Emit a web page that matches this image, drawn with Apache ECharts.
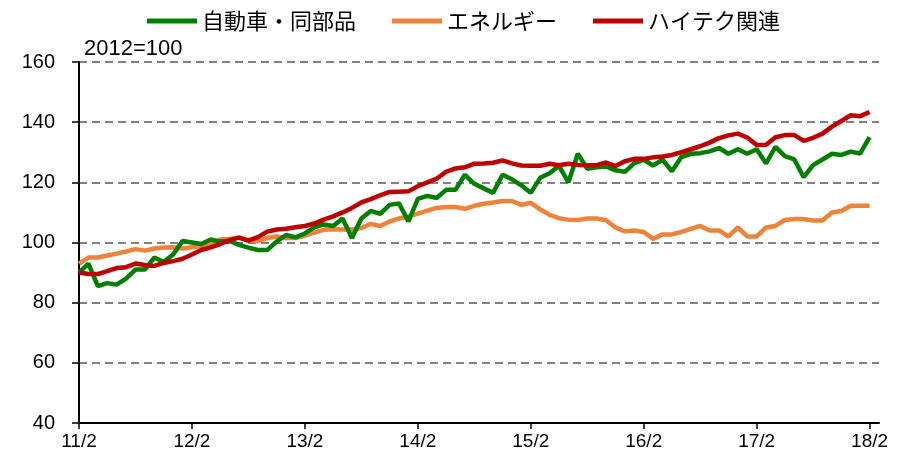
<!DOCTYPE html>
<html>
<head>
<meta charset="utf-8">
<script src="https://cdn.jsdelivr.net/npm/echarts@6/dist/echarts.min.js"></script>
<style>
html,body{margin:0;padding:0;background:#fff;}
#chart{width:906px;height:460px;}
</style>
</head>
<body>
<div id="chart"></div>
<script>
// Monthly categories 11/2 .. 18/3 (last one only extends the axis)
var categories = [
 '11/2','11/3','11/4','11/5','11/6','11/7','11/8','11/9','11/10','11/11','11/12',
 '12/1','12/2','12/3','12/4','12/5','12/6','12/7','12/8','12/9','12/10','12/11','12/12',
 '13/1','13/2','13/3','13/4','13/5','13/6','13/7','13/8','13/9','13/10','13/11','13/12',
 '14/1','14/2','14/3','14/4','14/5','14/6','14/7','14/8','14/9','14/10','14/11','14/12',
 '15/1','15/2','15/3','15/4','15/5','15/6','15/7','15/8','15/9','15/10','15/11','15/12',
 '16/1','16/2','16/3','16/4','16/5','16/6','16/7','16/8','16/9','16/10','16/11','16/12',
 '17/1','17/2','17/3','17/4','17/5','17/6','17/7','17/8','17/9','17/10','17/11','17/12',
 '18/1','18/2','18/3'
];
var seriesNames = ['自動車・同部品', 'エネルギー', 'ハイテク関連'];
var autoParts = [
 90,93,85.5,86.5,86,88,91,91,95,93.5,96,100.5,
 100,99.5,101,100.3,100.5,99.2,98.3,97.5,97.5,100.3,102.5,101.7,
 103,105,106,105.5,108,101.5,108,110.5,109.5,112.5,113,107,
 114.5,115.5,114.8,117.5,117.5,122.5,119.5,118,116.5,122.5,121,119,
 116.5,121.5,123,125.5,120,129.5,124.5,125,125.3,124,123.5,126.4,
 127.5,125.6,127.5,123.7,128.4,129.5,129.7,130.3,131.4,129.5,131,129.5,
 131,126.3,131.8,128.7,127.6,121.7,125.7,127.6,129.5,129.1,130.2,129.6,135,
 null
];
var energy = [
 93,95,95,95.7,96.3,97,97.8,97.3,98,98.3,98.4,98,
 98.4,98.8,99.5,101,101.2,101.7,100.8,100.5,101.5,102,101.5,101.5,
 102.3,103.3,104.2,104.4,104.3,104.3,104.8,106.2,105.5,107,108,108.6,
 109.6,110.6,111.5,111.8,111.8,111.2,112.2,112.9,113.3,113.8,113.8,112.5,
 113.2,111,109.2,108.1,107.6,107.5,108,108,107.4,105,103.7,104,
 103.5,101.2,102.7,102.7,103.5,104.5,105.5,104,104,102,105,102,
 102,105,105.5,107.5,107.8,107.8,107.3,107.3,110,110.5,112.2,112.2,112.2,
 null
];
var hiTech = [
 90,89.5,89.5,90.5,91.5,91.8,93,92.5,92.2,93.2,93.8,94.6,
 96,97.5,98.4,99.5,100.8,101.6,100.6,101.8,103.6,104.3,104.6,105.1,
 105.5,106.3,107.6,108.7,110,111.5,113.3,114.4,115.7,116.8,116.9,117,
 118.7,120,121.2,123.5,124.6,125,126.2,126.3,126.5,127.3,126.3,125.6,
 125.5,125.5,126.2,125.7,126.2,125.8,125.7,125.7,126.6,125.4,127,127.8,
 127.8,128.3,128.6,129.1,130,131,132,133.2,134.7,135.6,136.2,134.9,
 132.4,132.5,135,135.7,135.7,133.8,134.8,136.2,138.5,140.4,142.3,142,143.4,
 null
];
var colors = ['#008000', '#F0823A', '#C00000'];
var yTicks = {min: 40, max: 160, interval: 20};
var unitLabel = '2012=100';

var chart = echarts.init(document.getElementById('chart'), null, {renderer: 'canvas'});
var numFont = "'Liberation Sans', Arial, sans-serif";
var jpFont = "'Noto Sans CJK JP', sans-serif";
var dataSets = [autoParts, energy, hiTech];
chart.setOption({
  animation: false,
  backgroundColor: '#fff',
  title: {
    text: unitLabel, left: 79, top: 33,
    textStyle: {fontFamily: numFont, fontSize: 22, fontWeight: 'normal', color: '#000'}
  },
  legend: {
    data: seriesNames.map(function (n) { return {name: n, icon: 'rect'}; }),
    left: 142, top: 5,
    itemWidth: 50, itemHeight: 5, itemGap: 36,
    textStyle: {fontFamily: jpFont, fontSize: 22, color: '#000'}
  },
  grid: {left: 79, right: 27, top: 62, bottom: 37, containLabel: false},
  xAxis: {
    type: 'category',
    data: categories,
    boundaryGap: false,
    axisLine: {lineStyle: {color: '#000', width: 2}},
    axisTick: {interval: 11, length: 6, lineStyle: {color: '#000', width: 1.5}},
    axisLabel: {interval: 11, margin: 9, fontFamily: numFont, fontSize: 19, color: '#000'},
    splitLine: {show: false}
  },
  yAxis: {
    type: 'value',
    min: yTicks.min, max: yTicks.max, interval: yTicks.interval,
    axisLine: {show: true, lineStyle: {color: '#000', width: 2}},
    axisTick: {show: true, length: 7, lineStyle: {color: '#000', width: 1.5}},
    axisLabel: {margin: 24, fontFamily: numFont, fontSize: 20, color: '#000'},
    splitLine: {show: true, lineStyle: {color: '#5a5a5a', width: 1.5, type: [8, 5]}}
  },
  series: seriesNames.map(function (n, i) {
    return {
      name: n, type: 'line', data: dataSets[i],
      symbol: 'none', smooth: false, connectNulls: false,
      lineStyle: {color: colors[i], width: 4.5},
      itemStyle: {color: colors[i]},
      z: 3 + (i === 0 ? 0 : i === 1 ? -1 : 1)
    };
  })
});
</script>
</body>
</html>
